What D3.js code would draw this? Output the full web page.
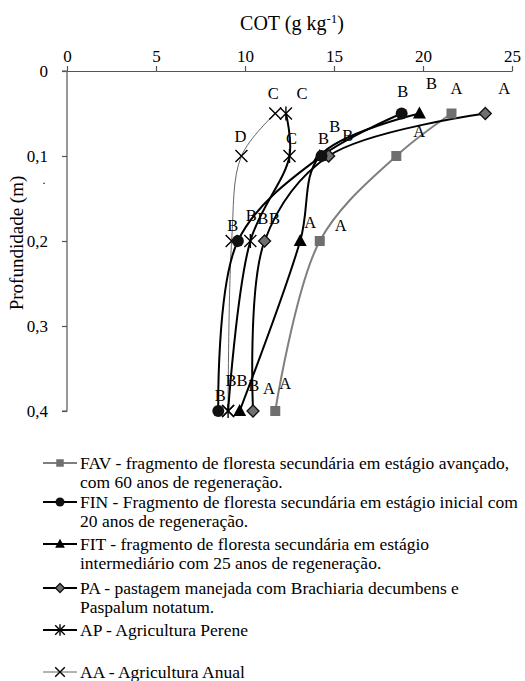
<!DOCTYPE html>
<html><head><meta charset="utf-8">
<script src="https://cdn.jsdelivr.net/npm/d3@7"></script>
<style>body{margin:0;background:#fff}svg{display:block}</style>
</head><body>
<svg id="c" width="525" height="681" font-family="'Liberation Serif', 'Times New Roman', Times, 'DejaVu Serif', serif"></svg>
<script>
const depths = [0.05, 0.1, 0.2, 0.4];
const xTicks = [0, 5, 10, 15, 20, 25];
const yTicks = [0, 0.1, 0.2, 0.3, 0.4];
const seriesNames = ["FAV", "FIN", "FIT", "PA", "AP", "AA"];
const favValues = [21.6, 18.5, 14.2, 11.7];
const finValues = [18.8, 14.3, 9.6, 8.5];
const fitValues = [19.8, 14.2, 13.1, 9.7];
const paValues  = [23.5, 14.7, 11.1, 10.45];
const apValues  = [12.3, 12.5, 10.3, 9.05];
const aaValues  = [11.7, 9.8, 9.25, 9.05];
const favLetters = ["A", "A", "A", "A"];
const finLetters = ["B", "B", "B", "B"];
const fitLetters = ["B", "B", "A", "B"];
const paLetters  = ["A", "B", "B", "A"];
const apLetters  = ["C", "C", "B", "B"];
const aaLetters  = ["C", "D", "B", "B"];
const legendLines = [
  ["FAV - fragmento de floresta secundária em estágio avançado,", "com 60 anos de regeneração."],
  ["FIN - Fragmento de floresta secundária em estágio inicial com", "20 anos de regeneração."],
  ["FIT - fragmento de floresta secundária em estágio", "intermediário com 25 anos de regeneração."],
  ["PA - pastagem manejada com Brachiaria decumbens e", "Paspalum notatum."],
  ["AP - Agricultura Perene"],
  ["AA - Agricultura Anual"]
];

const FONT = "'Liberation Serif', 'Times New Roman', Times, 'DejaVu Serif', serif";

// label offsets (pixels) relative to each point
const letterOffsets = {
  FAV: [[5,-25],[23,-25],[21,-16],[10,-28]],
  FIN: [[1,-22],[2,-18],[25,-23],[2,-16]],
  FIT: [[12,-30],[15,-30],[10,-19],[14,-26]],
  PA:  [[19,-25],[19,-21],[10,-23],[16,-23]],
  AP:  [[16,-20],[2,-18],[1,-26],[14,-31]],
  AA:  [[-2,-20],[-1,-20],[1,-16],[3,-31]]
};

const series = [
  {name:"FAV", values:favValues, letters:favLetters, line:"#7f7f7f", lw:2, marker:"square"},
  {name:"FIN", values:finValues, letters:finLetters, line:"#000", lw:2, marker:"circle"},
  {name:"FIT", values:fitValues, letters:fitLetters, line:"#000", lw:2, marker:"triangle"},
  {name:"PA",  values:paValues,  letters:paLetters,  line:"#000", lw:2, marker:"diamond"},
  {name:"AP",  values:apValues,  letters:apLetters,  line:"#000", lw:2, marker:"asterisk"},
  {name:"AA",  values:aaValues,  letters:aaLetters,  line:"#666", lw:1, marker:"x"}
];

const svg = d3.select("#c");
const x = d3.scaleLinear().domain([0,25]).range([67,512]);
const y = d3.scaleLinear().domain([0,0.4]).range([71,411]);

function txt(sel) { return sel.attr("font-family", FONT).style("font-family", FONT).attr("fill", "#000"); }

// axes
const xAxis = svg.append("g").attr("transform","translate(0,71)")
  .call(d3.axisTop(x).tickValues(xTicks).tickSize(5).tickSizeOuter(0).tickPadding(4).tickFormat(d3.format("d")));
const yAxis = svg.append("g").attr("transform","translate(67,0)")
  .call(d3.axisLeft(y).tickValues(yTicks).tickSize(5).tickSizeOuter(0).tickPadding(14)
    .tickFormat(d => d === 0 ? "0" : d3.format(".1f")(d).replace(".", ",")));
[xAxis, yAxis].forEach(g => {
  g.attr("font-family", FONT);
  g.selectAll("path,line").attr("stroke","#555").attr("stroke-width",1.2);
  txt(g.selectAll("text")).style("font-size","17px");
});
yAxis.select(".domain").attr("d","M-5,71H0V411H-5");

// titles
const t = txt(svg.append("text")).attr("x",292).attr("y",30).attr("text-anchor","middle").style("font-size","20px");
t.append("tspan").text("COT (g kg");
t.append("tspan").text("-1").attr("dy",-7).style("font-size","13px");
t.append("tspan").text(")").attr("dy",7);
txt(svg.append("text")).attr("transform","translate(23,243) rotate(-90)").attr("text-anchor","middle")
  .style("font-size","19px").text("Profundidade (m)");
txt(svg.append("text")).attr("x",44).attr("y",184).attr("text-anchor","middle").style("font-size","12px").text(".");

// marker drawing
function drawMarker(g, type, cx, cy, s) {
  s = s || 1;
  if (type === "square") g.append("rect").attr("x",cx-5*s).attr("y",cy-5*s).attr("width",10*s).attr("height",10*s).attr("fill","#6f6f6f");
  else if (type === "circle") g.append("circle").attr("cx",cx).attr("cy",cy).attr("r",6*s).attr("fill","#111");
  else if (type === "triangle") g.append("path").attr("d",`M${cx},${cy-7*s}L${cx+6.5*s},${cy+5*s}L${cx-6.5*s},${cy+5*s}Z`).attr("fill","#000");
  else if (type === "diamond") g.append("path").attr("d",`M${cx},${cy-6*s}L${cx+6*s},${cy}L${cx},${cy+6*s}L${cx-6*s},${cy}Z`).attr("fill","#707070").attr("stroke","#111").attr("stroke-width",1.3);
  else if (type === "x" || type === "asterisk") {
    const r = 6*s;
    g.append("path").attr("d",`M${cx-r},${cy-r}L${cx+r},${cy+r}M${cx-r},${cy+r}L${cx+r},${cy-r}`).attr("stroke","#000").attr("stroke-width",1.4).attr("fill","none");
    if (type === "asterisk") g.append("path").attr("d",`M${cx},${cy-r-1}L${cx},${cy+r+1}`).attr("stroke","#000").attr("stroke-width",1.4);
  }
}

const line = d3.line().curve(d3.curveCatmullRom.alpha(0.5)).x(d => x(d[0])).y(d => y(d[1]));
const plot = svg.append("g");
const drawOrder = ["AA","AP","FAV","PA","FIT","FIN"];
drawOrder.forEach(n => {
  const s = series.find(e => e.name === n);
  plot.append("path").datum(s.values.map((v,i) => [v, depths[i]]))
    .attr("d", line).attr("fill","none").attr("stroke", s.line).attr("stroke-width", s.lw);
});
drawOrder.forEach(n => {
  const s = series.find(e => e.name === n);
  s.values.forEach((v,i) => drawMarker(plot, s.marker, x(v), y(depths[i])));
});
series.forEach(s => {
  s.values.forEach((v,i) => {
    const o = letterOffsets[s.name][i];
    txt(plot.append("text")).attr("x", x(v)+o[0]).attr("y", y(depths[i])+o[1]).attr("text-anchor","middle")
      .attr("dominant-baseline","central").style("font-size","16.5px").text(s.letters[i]);
  });
});

// legend
const legendY = [463, 502, 544, 588, 630, 672];
const lg = svg.append("g");
series.forEach((s,i) => {
  const yy = legendY[i];
  lg.append("line").attr("x1",43).attr("x2",77).attr("y1",yy).attr("y2",yy).attr("stroke",s.line).attr("stroke-width",s.lw);
  drawMarker(lg, s.marker, 60, yy, s.marker === "x" || s.marker === "asterisk" ? 0.8 : 0.75);
  legendLines[i].forEach((tx,j) => {
    txt(lg.append("text")).attr("x",80).attr("y",yy + j*19).attr("dominant-baseline","central").style("font-size","17.5px").text(tx);
  });
});
</script>
</body></html>
